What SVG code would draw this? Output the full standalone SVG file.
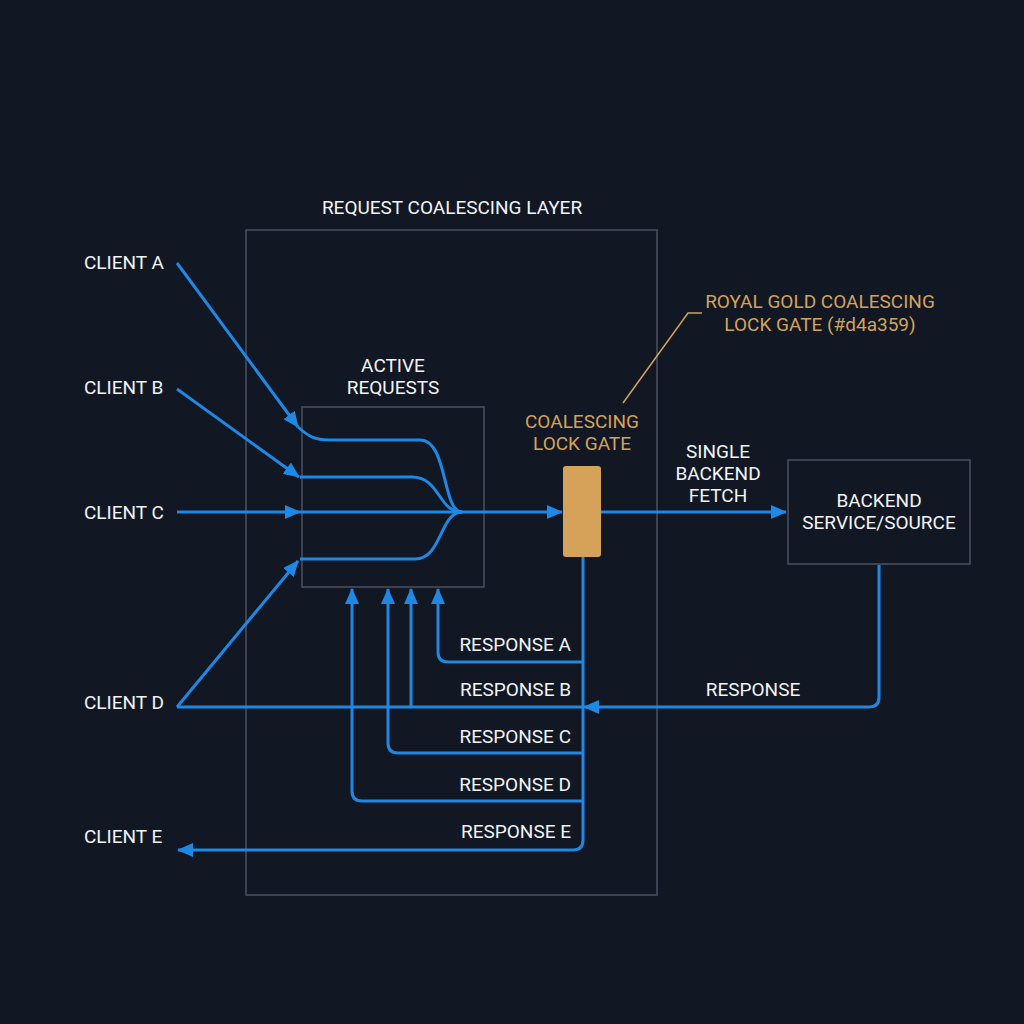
<svg xmlns="http://www.w3.org/2000/svg" width="1024" height="1024" viewBox="0 0 1024 1024">
<defs>
<style>
.t{font-family:Roboto,"Liberation Sans",sans-serif;font-size:19px;fill:#f2f4f7}
.g{fill:#d4a359}
.e{text-anchor:end}
.m{text-anchor:middle}
.b{fill:none;stroke:#1e88e5;stroke-width:3;stroke-linejoin:round}
.box{fill:none;stroke:#4a5263;stroke-width:1.5}
</style>
<marker id="ah" markerWidth="16" markerHeight="14" refX="15" refY="7" orient="auto" markerUnits="userSpaceOnUse">
<path d="M0,0 L16,7 L0,14 Z" fill="#1e88e5"/>
</marker>
</defs>
<rect width="1024" height="1024" fill="#111723"/>
<g id="layer">
<rect class="box" x="246" y="230" width="411" height="665"/>
<text class="t m" x="452" y="214">REQUEST COALESCING LAYER</text>
</g>
<g id="active">
<rect class="box" x="302" y="407" width="182" height="180"/>
<text class="t m" x="393" y="372">ACTIVE</text>
<text class="t m" x="393" y="394">REQUESTS</text>
</g>
<g id="clients">
<text class="t" x="84" y="269">CLIENT A</text>
<text class="t" x="84" y="394">CLIENT B</text>
<text class="t" x="84" y="519">CLIENT C</text>
<text class="t" x="84" y="709">CLIENT D</text>
<text class="t" x="84" y="843">CLIENT E</text>
</g>
<g id="gate">
<rect x="563" y="466" width="38" height="91" rx="3" fill="#d4a359"/>
<text class="t g m" x="582" y="428">COALESCING</text>
<text class="t g m" x="582" y="450">LOCK GATE</text>
</g>
<g id="note">
<text class="t g m" x="820" y="308">ROYAL GOLD COALESCING</text>
<text class="t g m" x="820" y="331">LOCK GATE (#d4a359)</text>
<path d="M623,403 L688,313 L702,313" fill="none" stroke="#d4a359" stroke-width="1.5"/>
</g>
<g id="backend">
<rect class="box" x="788" y="460" width="182" height="104"/>
<text class="t m" x="879" y="507">BACKEND</text>
<text class="t m" x="879" y="529">SERVICE/SOURCE</text>
</g>
<g id="connectors">
<path class="b" d="M177,263 L298,427" marker-end="url(#ah)"/>
<path class="b" d="M177,389 L299,477" marker-end="url(#ah)"/>
<path class="b" d="M177,512 L300,512" marker-end="url(#ah)"/>
<path class="b" d="M177,707 L298,561" marker-end="url(#ah)"/>
<path class="b" d="M298,427 C308,436 314,440 330,440 L420,440 C448,440 442,512 462,512"/>
<path class="b" d="M300,477 L412,477 C440,477 438,512 462,512"/>
<path class="b" d="M300,559 L415,559 C442,559 440,512 462,512"/>
<path class="b" d="M300,512 L562,512" marker-end="url(#ah)"/>
<path class="b" d="M601,512 L786,512" marker-end="url(#ah)"/>
<path class="b" d="M879,565 L879,697 Q879,707 869,707 L584,707" marker-end="url(#ah)"/>
<path class="b" d="M177,707 L583,707"/>
<path class="b" d="M583,557 L583,840 Q583,850 573,850 L178,850" marker-end="url(#ah)"/>
<path class="b" d="M583,662 L448,662 Q438,662 438,652 L438,589" marker-end="url(#ah)"/>
<path class="b" d="M411,707 L411,589" marker-end="url(#ah)"/>
<path class="b" d="M583,753 L398,753 Q388,753 388,743 L388,589" marker-end="url(#ah)"/>
<path class="b" d="M583,801 L362,801 Q352,801 352,791 L352,589" marker-end="url(#ah)"/>
</g>
<g id="labels">
<text class="t e" x="571" y="651">RESPONSE A</text>
<text class="t e" x="571" y="696">RESPONSE B</text>
<text class="t e" x="571" y="743">RESPONSE C</text>
<text class="t e" x="571" y="791">RESPONSE D</text>
<text class="t e" x="571" y="838">RESPONSE E</text>
<text class="t m" x="753" y="696">RESPONSE</text>
<text class="t m" x="718" y="458">SINGLE</text>
<text class="t m" x="718" y="480">BACKEND</text>
<text class="t m" x="718" y="502">FETCH</text>
</g>
</svg>
